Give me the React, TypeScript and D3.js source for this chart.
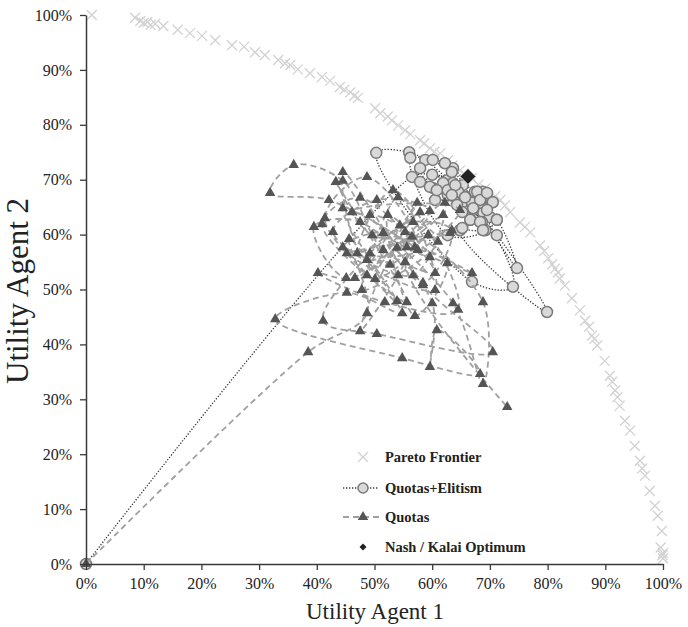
import { useRef, useEffect } from "react";
import * as d3 from "d3";

// Pareto frontier (utility agent 1 / agent 2, in %)
const paretoU1 = [1.0, 8.5, 9.4, 10.6, 12.0, 13.4, 15.9, 18.0, 20.1, 22.4, 25.3, 27.4, 29.3, 31.0, 33.3, 35.4, 36.7, 38.8, 40.9, 42.3, 44.0, 45.8, 47.1, 50.1, 51.0, 53.0, 54.1, 55.3, 57.9, 59.6, 61.4, 62.7, 64.8, 66.9, 69.2, 70.9, 72.6, 73.5, 75.2, 77.0, 78.7, 80.1, 81.3, 82.1, 83.0, 84.2, 85.6, 86.5, 87.7, 88.6, 89.9, 90.8, 91.7, 92.5, 93.4, 94.3, 95.1, 96.0, 96.9, 97.7, 98.6, 99.1, 99.8, 100, 100,
  10.0, 11.2, 34.5, 44.8, 46.5, 52.3, 56.2, 58.6, 60.4, 63.5, 65.6, 68.0, 71.8, 76.1, 79.4, 80.8, 81.8, 87.2, 88.1, 91.2, 92.1, 96.4, 99.6, 99.9];
const paretoU2 = [100, 99.5, 98.9, 98.7, 98.4, 98.0, 97.3, 96.7, 96.2, 95.4, 94.5, 94.2, 93.2, 92.7, 91.8, 90.9, 90.1, 89.4, 88.7, 88.0, 86.9, 85.9, 84.9, 83.0, 82.1, 80.8, 79.9, 79.0, 77.2, 75.7, 74.8, 73.5, 71.7, 70.3, 68.4, 67.0, 65.3, 64.1, 62.2, 60.4, 58.0, 55.7, 53.8, 52.0, 50.7, 48.4, 46.2, 44.3, 41.6, 39.8, 37.0, 34.3, 31.6, 28.8, 26.1, 24.3, 21.5, 18.8, 16.1, 13.3, 10.6, 8.8, 6.0, 2.0, 1.0,
  98.6, 98.2, 91.2, 86.4, 85.3, 81.5, 78.3, 76.6, 75.1, 72.6, 71.0, 69.1, 66.3, 61.4, 57.0, 54.6, 53.1, 43.2, 41.0, 33.2, 30.4, 17.4, 3.0, 1.6];

// Quotas+Elitism trajectory
const eliteU1 = [0, 56.5, 60.0, 62.6, 58.8, 56.0, 50.3, 66.9, 74.0, 68.8, 63.6, 60.1, 62.2, 65.3, 57.9, 60.1, 63.6, 66.2, 67.4, 62.7, 64.5, 68.8, 69.5, 60.5, 70.4, 68.3, 65.2, 66.9, 67.1, 71.2, 79.9, 64.8, 70.0, 71.2, 74.7, 68.6, 66.6, 65.2, 69.2, 62.7,
  56.2, 63.4, 57.9, 59.6, 61.9, 62.7, 64.0, 63.4, 65.7, 67.8, 68.3, 69.5, 70.5, 67.1, 69.5, 66.6, 68.3, 65.2, 68.8, 71.2, 60.8, 64.3];
const eliteU2 = [0, 70.5, 70.9, 69.9, 73.6, 75.0, 74.9, 51.4, 50.5, 64.1, 72.1, 73.6, 73.0, 69.0, 72.1, 68.5, 69.4, 66.8, 67.8, 67.2, 67.8, 67.8, 66.7, 66.3, 65.9, 65.8, 65.8, 65.8, 64.5, 59.9, 45.9, 60.8, 63.2, 62.7, 53.9, 62.3, 62.7, 64.1, 60.8, 59.9,
  74.0, 71.4, 69.6, 68.7, 69.4, 68.1, 69.0, 67.2, 66.8, 67.8, 66.3, 67.6, 65.9, 64.8, 64.5, 62.7, 62.3, 61.2, 60.8, 62.7, 68.1, 65.4];

// Quotas trajectory
const quotaU1 = [0, 38.5, 48.7, 45.6, 53.9, 44.5, 57.0, 42.1, 31.9, 36.0, 44.5, 51.5, 60.5, 47.5, 40.9, 55.6, 43.3, 49.6, 63.1, 45.2, 57.5, 48.7, 41.4, 54.8, 45.2, 32.8, 54.8, 68.3, 60.8, 59.6, 60.0, 47.5, 39.5, 45.1, 59.6, 50.4, 42.8, 56.7, 62.2, 46.6, 40.2, 51.8, 64.5, 53.2, 47.0, 57.9, 49.2, 41.1, 50.4, 70.5, 58.4, 44.5, 48.7, 61.9, 53.9, 47.5, 54.1, 56.5, 49.2, 63.6, 68.8, 68.8, 55.3, 44.5, 60.5, 54.1, 48.7, 57.4, 50.1, 64.8, 46.1, 59.6, 52.3, 57.0, 62.6, 55.6, 66.9, 51.5, 58.4, 63.4, 54.4, 47.8, 61.0, 56.7, 52.7, 59.3, 55.3, 73.0];
const quotaU2 = [0, 38.6, 45.7, 59.2, 47.9, 64.8, 57.7, 66.3, 67.6, 72.7, 69.8, 57.2, 53.0, 66.7, 61.9, 47.7, 69.6, 59.9, 60.3, 56.6, 57.2, 70.5, 63.0, 45.7, 49.4, 44.6, 37.5, 34.6, 42.6, 35.9, 47.5, 62.3, 61.4, 52.1, 64.3, 66.3, 60.5, 52.6, 65.8, 52.1, 53.0, 47.7, 46.3, 68.1, 56.6, 64.1, 56.6, 44.3, 41.9, 38.6, 50.8, 71.4, 55.4, 63.6, 57.6, 42.4, 52.6, 59.6, 63.6, 47.5, 32.8, 47.7, 60.5, 57.7, 49.9, 66.8, 52.6, 65.8, 51.9, 64.5, 64.1, 55.9, 63.6, 45.2, 54.8, 57.7, 53.0, 60.3, 51.2, 60.8, 61.7, 49.9, 58.7, 62.3, 54.5, 59.9, 55.0, 28.6];

const nashU1 = [66.2];
const nashU2 = [70.6];

const xTicks = [0, 10, 20, 30, 40, 50, 60, 70, 80, 90, 100];
const yTicks = [0, 10, 20, 30, 40, 50, 60, 70, 80, 90, 100];
const legendLabels = ["Pareto Frontier", "Quotas+Elitism", "Quotas", "Nash / Kalai Optimum"];

const W = 688;
const H = 627;
const FONT = "'Liberation Serif', 'Times New Roman', serif";

export default function App() {
  const svgRef = useRef<SVGSVGElement>(null);

  useEffect(() => {
    if (!svgRef.current) return;
    const svg = d3.select(svgRef.current);
    svg.selectAll("*").remove();

    const x = d3.scaleLinear().domain([0, 100]).range([86, 663]);
    const y = d3.scaleLinear().domain([0, 100]).range([564, 15]);

    const zip = (a: number[], b: number[]) => a.map((v, i) => [v, b[i]] as [number, number]);
    const pareto = zip(paretoU1, paretoU2);
    const elite = zip(eliteU1, eliteU2);
    const quotas = zip(quotaU1, quotaU2);
    const nash = zip(nashU1, nashU2);

    const crossPath = "M-5,-5L5,5M-5,5L5,-5";
    const tri = d3.symbol().type(d3.symbolTriangle).size(48)()!;
    const diamond = (s: number) => `M0,${-s}L${s},0L0,${s}L${-s},0Z`;

    // Pareto frontier
    svg.append("g")
      .selectAll("path")
      .data(pareto)
      .join("path")
      .attr("transform", (d) => `translate(${x(d[0])},${y(d[1])})`)
      .attr("d", crossPath)
      .attr("fill", "none")
      .attr("stroke", "#d2d2d2")
      .attr("stroke-width", 1.3);

    const line = d3
      .line<[number, number]>()
      .x((d) => x(d[0]))
      .y((d) => y(d[1]))
      .curve(d3.curveCatmullRom.alpha(0.5));

    // Quotas+Elitism
    svg.append("path")
      .datum(elite)
      .attr("d", line)
      .attr("fill", "none")
      .attr("stroke", "#3a3a3a")
      .attr("stroke-width", 1.3)
      .attr("stroke-dasharray", "1.3,1.7");

    svg.append("g")
      .selectAll("circle")
      .data(elite)
      .join("circle")
      .attr("cx", (d) => x(d[0]))
      .attr("cy", (d) => y(d[1]))
      .attr("r", 5.5)
      .attr("fill", "#d9d9d9")
      .attr("stroke", "#7a7a7a")
      .attr("stroke-width", 1.5);

    // Quotas
    svg.append("path")
      .datum(quotas)
      .attr("d", line)
      .attr("fill", "none")
      .attr("stroke", "#a0a0a0")
      .attr("stroke-width", 1.8)
      .attr("stroke-dasharray", "6,4");

    svg.append("g")
      .selectAll("path")
      .data(quotas)
      .join("path")
      .attr("transform", (d) => `translate(${x(d[0])},${y(d[1])})`)
      .attr("d", tri)
      .attr("fill", "#555555");

    // Nash / Kalai
    svg.append("g")
      .selectAll("path")
      .data(nash)
      .join("path")
      .attr("transform", (d) => `translate(${x(d[0])},${y(d[1])})`)
      .attr("d", diamond(8))
      .attr("fill", "#222222")
      .attr("stroke", "#ffffff")
      .attr("stroke-width", 0.8);

    // Axes
    const styleAxis = (g: d3.Selection<SVGGElement, unknown, null, undefined>) => {
      g.select(".domain").attr("stroke", "#3a3a3a").attr("stroke-width", 1.5);
      g.selectAll(".tick line").attr("stroke", "#3a3a3a").attr("stroke-width", 1.3);
      g.selectAll(".tick text")
        .attr("fill", "#222")
        .attr("font-family", FONT)
        .attr("font-size", 16);
    };

    svg.append("g")
      .attr("transform", `translate(0,${y(0)})`)
      .call(
        d3.axisBottom(x)
          .tickValues(xTicks)
          .tickSize(6)
          .tickSizeOuter(0)
          .tickPadding(8)
          .tickFormat((d) => `${d}%`)
      )
      .call(styleAxis);

    svg.append("g")
      .attr("transform", `translate(${x(0)},0)`)
      .call(
        d3.axisLeft(y)
          .tickValues(yTicks)
          .tickSize(6)
          .tickSizeOuter(0)
          .tickPadding(8)
          .tickFormat((d) => `${d}%`)
      )
      .call(styleAxis);

    svg.append("text")
      .attr("x", 375)
      .attr("y", 619)
      .attr("text-anchor", "middle")
      .attr("font-family", FONT)
      .attr("font-size", 23)
      .attr("fill", "#222")
      .text("Utility Agent 1");

    svg.append("text")
      .attr("transform", `translate(28,291) rotate(-90)`)
      .attr("text-anchor", "middle")
      .attr("font-family", FONT)
      .attr("font-size", 31)
      .attr("fill", "#222")
      .text("Utility Agent 2");

    // Legend
    const lg = svg.append("g");
    const rows = [457, 488, 517, 547];
    const sx = 363;
    legendLabels.forEach((label, i) => {
      const ry = rows[i];
      if (i === 0) {
        lg.append("path")
          .attr("transform", `translate(${sx},${ry})`)
          .attr("d", crossPath)
          .attr("fill", "none")
          .attr("stroke", "#d2d2d2")
          .attr("stroke-width", 1.3);
      } else if (i === 1) {
        lg.append("line")
          .attr("x1", 343).attr("x2", 379).attr("y1", ry).attr("y2", ry)
          .attr("stroke", "#3a3a3a").attr("stroke-width", 1.3)
          .attr("stroke-dasharray", "1.3,1.7");
        lg.append("circle")
          .attr("cx", sx).attr("cy", ry).attr("r", 5)
          .attr("fill", "#d9d9d9").attr("stroke", "#7a7a7a").attr("stroke-width", 1.5);
      } else if (i === 2) {
        lg.append("line")
          .attr("x1", 343).attr("x2", 379).attr("y1", ry).attr("y2", ry)
          .attr("stroke", "#a0a0a0").attr("stroke-width", 1.8)
          .attr("stroke-dasharray", "6,4");
        lg.append("path")
          .attr("transform", `translate(${sx},${ry})`)
          .attr("d", tri)
          .attr("fill", "#555555");
      } else {
        lg.append("path")
          .attr("transform", `translate(${sx},${ry})`)
          .attr("d", diamond(3.5))
          .attr("fill", "#222222");
      }
      lg.append("text")
        .attr("x", 385)
        .attr("y", ry)
        .attr("dy", "0.35em")
        .attr("font-family", FONT)
        .attr("font-weight", "bold")
        .attr("font-size", 14.5)
        .attr("fill", "#222")
        .text(label);
    });
  }, []);

  return (
    <svg
      ref={svgRef}
      width={W}
      height={H}
      style={{ position: "absolute", left: 0, top: 0, background: "#fff", display: "block" }}
    />
  );
}
